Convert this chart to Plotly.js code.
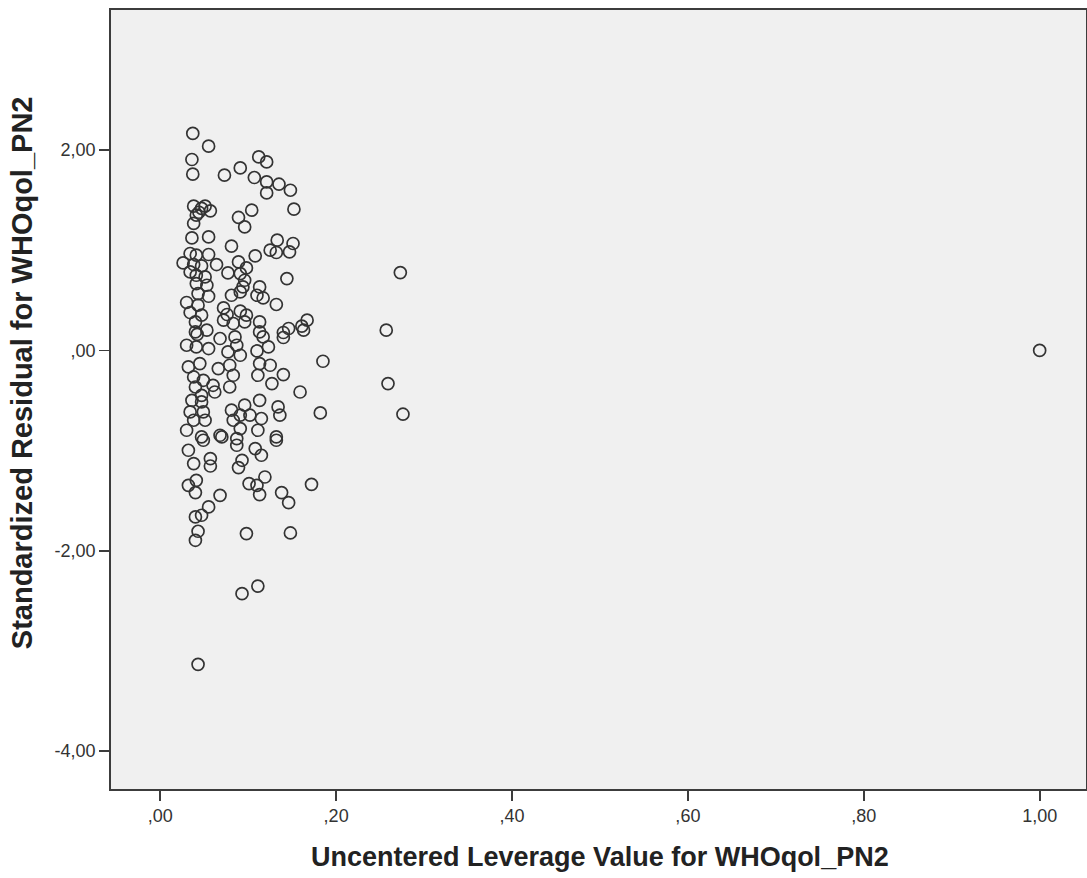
<!DOCTYPE html>
<html>
<head>
<meta charset="utf-8">
<script src="https://cdn.plot.ly/plotly-3.0.1.min.js"></script>
<style>html,body{margin:0;padding:0;background:#fff;}#chart{width:1087px;height:878px;}</style>
</head>
<body>
<div id="chart"></div>
<script>
// Uncentered leverage values (x) and standardized residuals (y)
const leverage = [
0.037,0.055,0.036,0.037,0.073,0.091,0.112,0.121,0.107,0.121,0.135,0.148,0.121,0.152,0.104,0.089,
0.038,0.047,0.057,0.041,0.038,0.051,0.044,0.096,0.036,0.055,0.081,0.133,0.151,0.125,0.132,0.147,
0.108,0.034,0.041,0.055,0.026,0.038,0.047,0.064,0.089,0.098,0.034,0.041,0.051,0.077,0.091,0.096,
0.144,0.041,0.053,0.094,0.113,0.091,0.043,0.055,0.081,0.110,0.117,0.132,0.030,0.043,0.034,0.047,
0.072,0.076,0.091,0.098,0.040,0.072,0.083,0.096,0.113,0.167,0.161,0.146,0.040,0.053,0.113,0.140,
0.042,0.030,0.041,0.055,0.068,0.085,0.087,0.117,0.140,0.163,0.077,0.091,0.110,0.123,0.113,0.125,
0.185,0.032,0.045,0.066,0.079,0.083,0.111,0.140,0.127,0.038,0.049,0.040,0.060,0.079,0.159,0.047,
0.062,0.036,0.047,0.113,0.096,0.081,0.091,0.102,0.115,0.134,0.136,0.182,0.034,0.049,0.038,0.051,
0.083,0.030,0.047,0.068,0.091,0.111,0.132,0.032,0.049,0.070,0.087,0.087,0.108,0.115,0.132,0.038,
0.057,0.057,0.093,0.089,0.041,0.032,0.040,0.068,0.101,0.119,0.110,0.113,0.138,0.146,0.172,0.055,
0.047,0.040,0.043,0.040,0.098,0.148,0.093,0.111,0.043,0.273,0.257,0.259,0.276,1.000
];
const residual = [
2.167,2.040,1.907,1.760,1.750,1.823,1.933,1.883,1.727,1.683,1.660,1.600,1.573,1.411,1.401,1.328,
1.441,1.418,1.394,1.351,1.268,1.441,1.380,1.234,1.124,1.134,1.041,1.101,1.068,1.001,0.978,0.984,
0.944,0.968,0.951,0.958,0.874,0.858,0.844,0.858,0.884,0.824,0.784,0.751,0.734,0.774,0.768,0.701,
0.718,0.668,0.651,0.634,0.634,0.584,0.568,0.541,0.551,0.551,0.524,0.459,0.479,0.452,0.379,0.352,
0.425,0.359,0.392,0.352,0.285,0.302,0.269,0.285,0.285,0.302,0.242,0.219,0.185,0.202,0.185,0.179,
0.160,0.052,0.035,0.019,0.119,0.135,0.052,0.135,0.129,0.202,-0.015,-0.048,-0.005,0.035,-0.131,-0.148,
-0.108,-0.165,-0.131,-0.181,-0.148,-0.248,-0.248,-0.241,-0.331,-0.265,-0.298,-0.365,-0.348,-0.365,-0.415,-0.448,
-0.415,-0.498,-0.514,-0.498,-0.547,-0.597,-0.647,-0.647,-0.680,-0.564,-0.647,-0.624,-0.614,-0.614,-0.697,-0.697,
-0.697,-0.797,-0.864,-0.847,-0.780,-0.797,-0.864,-0.997,-0.897,-0.864,-0.880,-0.947,-0.980,-1.047,-0.897,-1.130,
-1.080,-1.154,-1.097,-1.170,-1.297,-1.347,-1.420,-1.447,-1.330,-1.264,-1.347,-1.440,-1.420,-1.520,-1.337,-1.563,
-1.646,-1.663,-1.806,-1.896,-1.829,-1.823,-2.429,-2.353,-3.135,0.778,0.202,-0.331,-0.637,0.000
];
const xTickVals = [0, 0.2, 0.4, 0.6, 0.8, 1.0];
const xTickText = [",00", ",20", ",40", ",60", ",80", "1,00"];
const yTickVals = [-4, -2, 0, 2];
const yTickText = ["-4,00", "-2,00", ",00", "2,00"];
const xTitle = "Uncentered Leverage Value for WHOqol_PN2";
const yTitle = "Standardized Residual for WHOqol_PN2";

const trace = {
  x: leverage, y: residual, type: 'scatter', mode: 'markers',
  marker: {symbol: 'circle', size: 12, color: 'rgba(0,0,0,0)', line: {color: '#333333', width: 1.7}},
  hoverinfo: 'skip', showlegend: false
};
const axisCommon = {
  showgrid: false, zeroline: false, showline: true, mirror: true,
  linecolor: '#3c3c3c', linewidth: 1.8, ticks: 'outside', ticklen: 10, tickwidth: 1.8,
  tickcolor: '#3c3c3c', tickfont: {family: 'Liberation Sans, Arial, sans-serif', size: 18, color: '#333333'}
};
const layout = {
  width: 1087, height: 878,
  margin: {l: 111, r: 1, t: 10, b: 89},
  paper_bgcolor: '#ffffff', plot_bgcolor: '#f0f0f0',
  xaxis: Object.assign({}, axisCommon, {range: [-0.056, 1.0527], tickmode: 'array', tickvals: xTickVals, ticktext: xTickText}),
  yaxis: Object.assign({}, axisCommon, {range: [-4.38, 3.40], tickmode: 'array', tickvals: yTickVals, ticktext: yTickText}),
  annotations: [
    {text: '<b>' + xTitle + '</b>', xref: 'paper', yref: 'paper', x: 0.5015, y: -0.087, xanchor: 'center', yanchor: 'middle',
     showarrow: false, font: {family: 'Liberation Sans, Arial, sans-serif', size: 27, color: '#222222'}},
    {text: '<b>' + yTitle + '</b>', xref: 'paper', yref: 'paper', x: -0.0913, y: 0.535, xanchor: 'center', yanchor: 'middle',
     textangle: -90, showarrow: false, font: {family: 'Liberation Sans, Arial, sans-serif', size: 29, color: '#222222'}}
  ]
};
Plotly.newPlot('chart', [trace], layout, {displayModeBar: false, staticPlot: true});
</script>
</body>
</html>
